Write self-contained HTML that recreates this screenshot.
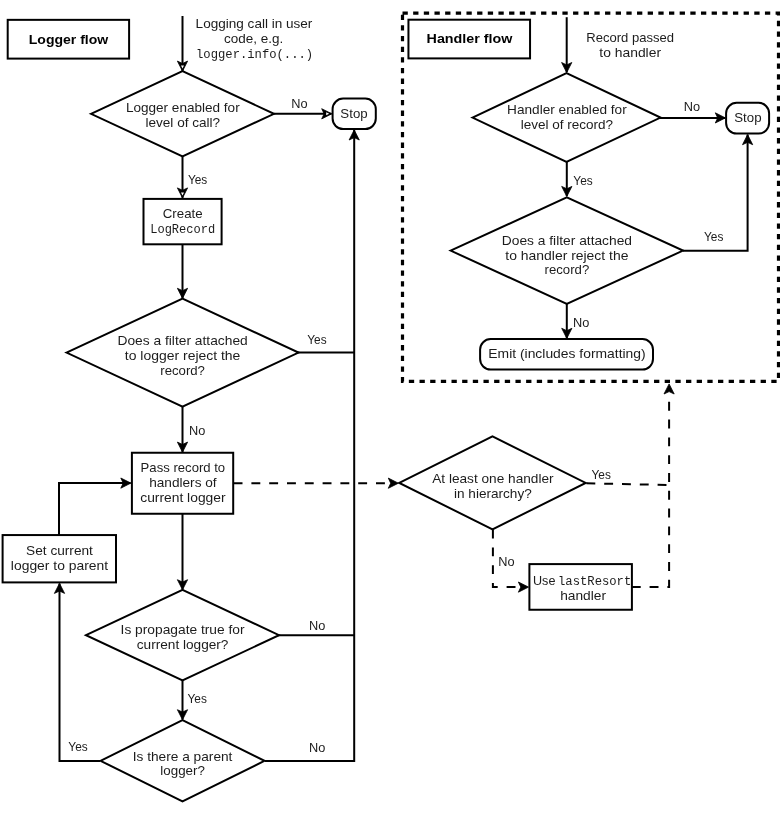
<!DOCTYPE html>
<html><head><meta charset="utf-8"><style>
html,body{margin:0;padding:0;background:#fff;width:780px;height:815px;overflow:hidden}
svg{display:block;will-change:transform}
text{fill:#1c1c1c}
text.b{fill:#000}
</style></head><body>
<svg width="780" height="815" viewBox="0 0 780 815">
<rect x="0" y="0" width="780" height="815" fill="#fff"/>
<rect x="7.70" y="19.85" width="121.40" height="38.75" fill="#fff" stroke="#000" stroke-width="2.0"/>
<text x="68.50" y="43.50" font-family="'Liberation Sans', sans-serif" font-size="12.4" font-weight="bold" class="b" text-anchor="middle" textLength="79.53" lengthAdjust="spacingAndGlyphs">Logger flow</text>
<path d="M182.50,16.00 L182.50,71.00" fill="none" stroke="#000" stroke-width="2.0"/>
<path d="M182.50,71.20 L177.40,61.10 L182.50,63.50 L187.60,61.10 Z" fill="#000" stroke="#000" stroke-width="0.8" stroke-linejoin="miter"/>
<path d="M182.50,68.60 L181.00,65.60 L184.00,65.60 Z" fill="#fff"/>
<text x="254.00" y="28.30" font-family="'Liberation Sans', sans-serif" font-size="12.4" text-anchor="middle" textLength="116.78" lengthAdjust="spacingAndGlyphs">Logging call in user</text>
<text x="253.60" y="43.00" font-family="'Liberation Sans', sans-serif" font-size="12.4" text-anchor="middle" textLength="59.20" lengthAdjust="spacingAndGlyphs">code, e.g.</text>
<text x="254.60" y="58.00" font-family="'Liberation Mono', monospace" font-size="12.0" text-anchor="middle" textLength="117.09" lengthAdjust="spacingAndGlyphs">logger.info(...)</text>
<path d="M265.00,760.90 L354.20,760.90 L354.20,130.00" fill="none" stroke="#000" stroke-width="2.0"/>
<path d="M354.20,129.90 L359.30,140.00 L354.20,137.60 L349.10,140.00 Z" fill="#000" stroke="#000" stroke-width="0.8" stroke-linejoin="miter"/>
<path d="M278.00,635.20 L354.20,635.20" fill="none" stroke="#000" stroke-width="2.0"/>
<path d="M297.00,352.60 L354.20,352.60" fill="none" stroke="#000" stroke-width="2.0"/>
<text x="317.10" y="630.10" font-family="'Liberation Sans', sans-serif" font-size="12.4" text-anchor="middle" textLength="16.32" lengthAdjust="spacingAndGlyphs">No</text>
<text x="317.10" y="751.60" font-family="'Liberation Sans', sans-serif" font-size="12.4" text-anchor="middle" textLength="16.32" lengthAdjust="spacingAndGlyphs">No</text>
<text x="316.90" y="344.20" font-family="'Liberation Sans', sans-serif" font-size="12.4" text-anchor="middle" textLength="19.37" lengthAdjust="spacingAndGlyphs">Yes</text>
<path d="M91.00,113.80 L182.50,71.20 L274.00,113.80 L182.50,156.40 Z" fill="#fff" stroke="#000" stroke-width="2.0" stroke-linejoin="miter" stroke-miterlimit="10"/>
<text x="182.80" y="111.80" font-family="'Liberation Sans', sans-serif" font-size="12.4" text-anchor="middle" textLength="113.79" lengthAdjust="spacingAndGlyphs">Logger enabled for</text>
<text x="182.80" y="126.80" font-family="'Liberation Sans', sans-serif" font-size="12.4" text-anchor="middle" textLength="74.72" lengthAdjust="spacingAndGlyphs">level of call?</text>
<path d="M274.00,113.80 L331.50,113.80" fill="none" stroke="#000" stroke-width="2.0"/>
<path d="M331.80,113.80 L321.70,118.90 L324.10,113.80 L321.70,108.70 Z" fill="#000" stroke="#000" stroke-width="0.8" stroke-linejoin="miter"/>
<path d="M329.20,113.80 L326.20,115.30 L326.20,112.30 Z" fill="#fff"/>
<text x="299.50" y="108.20" font-family="'Liberation Sans', sans-serif" font-size="12.4" text-anchor="middle" textLength="16.32" lengthAdjust="spacingAndGlyphs">No</text>
<rect x="332.60" y="98.60" width="43.20" height="30.50" rx="10.5" ry="10.5" fill="#fff" stroke="#000" stroke-width="2.0"/>
<text x="354.00" y="117.70" font-family="'Liberation Sans', sans-serif" font-size="12.4" text-anchor="middle" textLength="27.28" lengthAdjust="spacingAndGlyphs">Stop</text>
<path d="M182.50,156.00 L182.50,197.90" fill="none" stroke="#000" stroke-width="2.0"/>
<path d="M182.50,198.00 L177.40,187.90 L182.50,190.30 L187.60,187.90 Z" fill="#000" stroke="#000" stroke-width="0.8" stroke-linejoin="miter"/>
<path d="M182.50,195.40 L181.00,192.40 L184.00,192.40 Z" fill="#fff"/>
<text x="197.60" y="183.50" font-family="'Liberation Sans', sans-serif" font-size="12.4" text-anchor="middle" textLength="19.37" lengthAdjust="spacingAndGlyphs">Yes</text>
<rect x="143.50" y="198.90" width="78.10" height="45.40" fill="#fff" stroke="#000" stroke-width="2.0"/>
<text x="182.70" y="217.50" font-family="'Liberation Sans', sans-serif" font-size="12.4" text-anchor="middle" textLength="39.87" lengthAdjust="spacingAndGlyphs">Create</text>
<text x="182.70" y="232.50" font-family="'Liberation Mono', monospace" font-size="12.0" text-anchor="middle" textLength="65.02" lengthAdjust="spacingAndGlyphs">LogRecord</text>
<path d="M182.50,244.30 L182.50,298.00" fill="none" stroke="#000" stroke-width="2.0"/>
<path d="M182.50,298.40 L177.40,288.30 L182.50,290.70 L187.60,288.30 Z" fill="#000" stroke="#000" stroke-width="0.8" stroke-linejoin="miter"/>
<path d="M66.50,352.60 L182.50,298.60 L298.50,352.60 L182.50,406.60 Z" fill="#fff" stroke="#000" stroke-width="2.0" stroke-linejoin="miter" stroke-miterlimit="10"/>
<text x="182.60" y="344.80" font-family="'Liberation Sans', sans-serif" font-size="12.4" text-anchor="middle" textLength="130.25" lengthAdjust="spacingAndGlyphs">Does a filter attached</text>
<text x="182.60" y="359.60" font-family="'Liberation Sans', sans-serif" font-size="12.4" text-anchor="middle" textLength="115.48" lengthAdjust="spacingAndGlyphs">to logger reject the</text>
<text x="182.60" y="374.60" font-family="'Liberation Sans', sans-serif" font-size="12.4" text-anchor="middle" textLength="44.70" lengthAdjust="spacingAndGlyphs">record?</text>
<path d="M182.50,406.00 L182.50,452.00" fill="none" stroke="#000" stroke-width="2.0"/>
<path d="M182.50,452.20 L177.40,442.10 L182.50,444.50 L187.60,442.10 Z" fill="#000" stroke="#000" stroke-width="0.8" stroke-linejoin="miter"/>
<text x="197.30" y="434.60" font-family="'Liberation Sans', sans-serif" font-size="12.4" text-anchor="middle" textLength="16.32" lengthAdjust="spacingAndGlyphs">No</text>
<rect x="131.90" y="452.75" width="101.30" height="61.00" fill="#fff" stroke="#000" stroke-width="2.0"/>
<text x="182.90" y="471.50" font-family="'Liberation Sans', sans-serif" font-size="12.4" text-anchor="middle" textLength="84.56" lengthAdjust="spacingAndGlyphs">Pass record to</text>
<text x="182.90" y="486.50" font-family="'Liberation Sans', sans-serif" font-size="12.4" text-anchor="middle" textLength="67.47" lengthAdjust="spacingAndGlyphs">handlers of</text>
<text x="182.90" y="501.50" font-family="'Liberation Sans', sans-serif" font-size="12.4" text-anchor="middle" textLength="85.33" lengthAdjust="spacingAndGlyphs">current logger</text>
<path d="M182.50,513.50 L182.50,589.50" fill="none" stroke="#000" stroke-width="2.0"/>
<path d="M182.50,589.80 L177.40,579.70 L182.50,582.10 L187.60,579.70 Z" fill="#000" stroke="#000" stroke-width="0.8" stroke-linejoin="miter"/>
<path d="M86.00,635.20 L182.50,589.90 L279.00,635.20 L182.50,680.50 Z" fill="#fff" stroke="#000" stroke-width="2.0" stroke-linejoin="miter" stroke-miterlimit="10"/>
<text x="182.60" y="633.80" font-family="'Liberation Sans', sans-serif" font-size="12.4" text-anchor="middle" textLength="124.02" lengthAdjust="spacingAndGlyphs">Is propagate true for</text>
<text x="182.60" y="648.70" font-family="'Liberation Sans', sans-serif" font-size="12.4" text-anchor="middle" textLength="91.70" lengthAdjust="spacingAndGlyphs">current logger?</text>
<path d="M182.50,680.50 L182.50,719.50" fill="none" stroke="#000" stroke-width="2.0"/>
<path d="M182.50,719.80 L177.40,709.70 L182.50,712.10 L187.60,709.70 Z" fill="#000" stroke="#000" stroke-width="0.8" stroke-linejoin="miter"/>
<text x="197.20" y="702.50" font-family="'Liberation Sans', sans-serif" font-size="12.4" text-anchor="middle" textLength="19.37" lengthAdjust="spacingAndGlyphs">Yes</text>
<path d="M100.50,760.80 L182.50,720.10 L264.50,760.80 L182.50,801.50 Z" fill="#fff" stroke="#000" stroke-width="2.0" stroke-linejoin="miter" stroke-miterlimit="10"/>
<text x="182.60" y="760.50" font-family="'Liberation Sans', sans-serif" font-size="12.4" text-anchor="middle" textLength="99.67" lengthAdjust="spacingAndGlyphs">Is there a parent</text>
<text x="182.60" y="775.40" font-family="'Liberation Sans', sans-serif" font-size="12.4" text-anchor="middle" textLength="44.60" lengthAdjust="spacingAndGlyphs">logger?</text>
<text x="78.00" y="751.10" font-family="'Liberation Sans', sans-serif" font-size="12.4" text-anchor="middle" textLength="19.37" lengthAdjust="spacingAndGlyphs">Yes</text>
<path d="M100.00,760.90 L59.50,760.90 L59.50,583.50" fill="none" stroke="#000" stroke-width="2.0"/>
<path d="M59.50,583.30 L64.60,593.40 L59.50,591.00 L54.40,593.40 Z" fill="#000" stroke="#000" stroke-width="0.8" stroke-linejoin="miter"/>
<rect x="2.60" y="535.06" width="113.40" height="47.34" fill="#fff" stroke="#000" stroke-width="2.0"/>
<text x="59.50" y="555.10" font-family="'Liberation Sans', sans-serif" font-size="12.4" text-anchor="middle" textLength="66.81" lengthAdjust="spacingAndGlyphs">Set current</text>
<text x="59.50" y="570.20" font-family="'Liberation Sans', sans-serif" font-size="12.4" text-anchor="middle" textLength="97.24" lengthAdjust="spacingAndGlyphs">logger to parent</text>
<path d="M59.00,535.10 L59.00,483.10 L130.50,483.10" fill="none" stroke="#000" stroke-width="2.0"/>
<path d="M130.90,483.10 L120.80,488.20 L123.20,483.10 L120.80,478.00 Z" fill="#000" stroke="#000" stroke-width="0.8" stroke-linejoin="miter"/>
<path d="M233.60,483.20 L389.00,483.20" fill="none" stroke="#000" stroke-width="2.0" stroke-dasharray="8.9 8.9"/>
<path d="M398.40,483.20 L388.30,488.30 L390.70,483.20 L388.30,478.10 Z" fill="#000" stroke="#000" stroke-width="0.8" stroke-linejoin="miter"/>
<path d="M399.30,482.90 L492.50,436.40 L585.70,482.90 L492.50,529.40 Z" fill="#fff" stroke="#000" stroke-width="2.0" stroke-linejoin="miter" stroke-miterlimit="10"/>
<text x="492.90" y="482.90" font-family="'Liberation Sans', sans-serif" font-size="12.4" text-anchor="middle" textLength="121.34" lengthAdjust="spacingAndGlyphs">At least one handler</text>
<text x="492.90" y="497.70" font-family="'Liberation Sans', sans-serif" font-size="12.4" text-anchor="middle" textLength="77.71" lengthAdjust="spacingAndGlyphs">in hierarchy?</text>
<text x="601.20" y="478.50" font-family="'Liberation Sans', sans-serif" font-size="12.4" text-anchor="middle" textLength="19.37" lengthAdjust="spacingAndGlyphs">Yes</text>
<path d="M586.40,483.30 L669.10,485.00" fill="none" stroke="#000" stroke-width="2.0" stroke-dasharray="8.9 8.9"/>
<path d="M669.10,383.90 L674.20,394.00 L669.10,391.60 L664.00,394.00 Z" fill="#000" stroke="#000" stroke-width="0.8" stroke-linejoin="miter"/>
<path d="M492.90,529.60 L492.90,587.10 L520.00,587.10" fill="none" stroke="#000" stroke-width="2.0" stroke-dasharray="8.9 8.9"/>
<path d="M528.50,587.10 L518.40,592.20 L520.80,587.10 L518.40,582.00 Z" fill="#000" stroke="#000" stroke-width="0.8" stroke-linejoin="miter"/>
<text x="506.50" y="566.00" font-family="'Liberation Sans', sans-serif" font-size="12.4" text-anchor="middle" textLength="16.32" lengthAdjust="spacingAndGlyphs">No</text>
<rect x="529.40" y="564.10" width="102.50" height="45.65" fill="#fff" stroke="#000" stroke-width="2.0"/>
<text x="533.00" y="584.50" font-family="'Liberation Sans', sans-serif" font-size="12.4" textLength="22.42" lengthAdjust="spacingAndGlyphs">Use</text>
<text x="558.03" y="584.50" font-family="'Liberation Mono', monospace" font-size="12.0" textLength="73.25" lengthAdjust="spacingAndGlyphs">lastResort</text>
<text x="583.10" y="599.90" font-family="'Liberation Sans', sans-serif" font-size="12.4" text-anchor="middle" textLength="45.83" lengthAdjust="spacingAndGlyphs">handler</text>
<path d="M631.80,587.00 L669.10,587.00 L669.10,393.00" fill="none" stroke="#000" stroke-width="2.0" stroke-dasharray="8.9 8.9"/>
<rect x="402.50" y="13.10" width="376.00" height="368.30" fill="none" stroke="#000" stroke-width="3.2" stroke-dasharray="5.3 5.36"/>
<rect x="408.45" y="19.70" width="121.60" height="38.70" fill="#fff" stroke="#000" stroke-width="2.0"/>
<text x="469.50" y="42.90" font-family="'Liberation Sans', sans-serif" font-size="12.4" font-weight="bold" class="b" text-anchor="middle" textLength="85.85" lengthAdjust="spacingAndGlyphs">Handler flow</text>
<path d="M566.70,17.20 L566.70,72.00" fill="none" stroke="#000" stroke-width="2.0"/>
<path d="M566.70,72.60 L561.60,62.50 L566.70,64.90 L571.80,62.50 Z" fill="#000" stroke="#000" stroke-width="0.8" stroke-linejoin="miter"/>
<text x="630.20" y="42.20" font-family="'Liberation Sans', sans-serif" font-size="12.4" text-anchor="middle" textLength="87.75" lengthAdjust="spacingAndGlyphs">Record passed</text>
<text x="630.20" y="57.00" font-family="'Liberation Sans', sans-serif" font-size="12.4" text-anchor="middle" textLength="61.69" lengthAdjust="spacingAndGlyphs">to handler</text>
<path d="M472.50,117.60 L566.50,73.20 L660.50,117.60 L566.50,162.00 Z" fill="#fff" stroke="#000" stroke-width="2.0" stroke-linejoin="miter" stroke-miterlimit="10"/>
<text x="566.90" y="114.20" font-family="'Liberation Sans', sans-serif" font-size="12.4" text-anchor="middle" textLength="119.67" lengthAdjust="spacingAndGlyphs">Handler enabled for</text>
<text x="566.90" y="129.10" font-family="'Liberation Sans', sans-serif" font-size="12.4" text-anchor="middle" textLength="92.43" lengthAdjust="spacingAndGlyphs">level of record?</text>
<path d="M660.00,117.90 L725.00,117.90" fill="none" stroke="#000" stroke-width="2.0"/>
<path d="M725.40,117.90 L715.30,123.00 L717.70,117.90 L715.30,112.80 Z" fill="#000" stroke="#000" stroke-width="0.8" stroke-linejoin="miter"/>
<text x="692.00" y="110.50" font-family="'Liberation Sans', sans-serif" font-size="12.4" text-anchor="middle" textLength="16.32" lengthAdjust="spacingAndGlyphs">No</text>
<rect x="726.10" y="102.85" width="43.00" height="30.75" rx="10.5" ry="10.5" fill="#fff" stroke="#000" stroke-width="2.0"/>
<text x="747.90" y="121.80" font-family="'Liberation Sans', sans-serif" font-size="12.4" text-anchor="middle" textLength="27.28" lengthAdjust="spacingAndGlyphs">Stop</text>
<path d="M566.80,161.50 L566.80,196.00" fill="none" stroke="#000" stroke-width="2.0"/>
<path d="M566.80,196.50 L561.70,186.40 L566.80,188.80 L571.90,186.40 Z" fill="#000" stroke="#000" stroke-width="0.8" stroke-linejoin="miter"/>
<text x="583.00" y="185.40" font-family="'Liberation Sans', sans-serif" font-size="12.4" text-anchor="middle" textLength="19.37" lengthAdjust="spacingAndGlyphs">Yes</text>
<path d="M450.60,250.60 L566.80,197.40 L683.00,250.60 L566.80,303.80 Z" fill="#fff" stroke="#000" stroke-width="2.0" stroke-linejoin="miter" stroke-miterlimit="10"/>
<text x="566.90" y="244.70" font-family="'Liberation Sans', sans-serif" font-size="12.4" text-anchor="middle" textLength="130.25" lengthAdjust="spacingAndGlyphs">Does a filter attached</text>
<text x="566.90" y="259.60" font-family="'Liberation Sans', sans-serif" font-size="12.4" text-anchor="middle" textLength="123.09" lengthAdjust="spacingAndGlyphs">to handler reject the</text>
<text x="566.90" y="274.40" font-family="'Liberation Sans', sans-serif" font-size="12.4" text-anchor="middle" textLength="44.70" lengthAdjust="spacingAndGlyphs">record?</text>
<path d="M683.00,250.70 L747.60,250.70 L747.60,134.50" fill="none" stroke="#000" stroke-width="2.0"/>
<path d="M747.60,134.60 L752.70,144.70 L747.60,142.30 L742.50,144.70 Z" fill="#000" stroke="#000" stroke-width="0.8" stroke-linejoin="miter"/>
<text x="713.70" y="241.20" font-family="'Liberation Sans', sans-serif" font-size="12.4" text-anchor="middle" textLength="19.37" lengthAdjust="spacingAndGlyphs">Yes</text>
<path d="M566.80,303.50 L566.80,338.00" fill="none" stroke="#000" stroke-width="2.0"/>
<path d="M566.80,338.40 L561.70,328.30 L566.80,330.70 L571.90,328.30 Z" fill="#000" stroke="#000" stroke-width="0.8" stroke-linejoin="miter"/>
<text x="581.30" y="327.00" font-family="'Liberation Sans', sans-serif" font-size="12.4" text-anchor="middle" textLength="16.32" lengthAdjust="spacingAndGlyphs">No</text>
<rect x="480.10" y="339.10" width="172.90" height="30.50" rx="10.5" ry="10.5" fill="#fff" stroke="#000" stroke-width="2.0"/>
<text x="567.00" y="358.00" font-family="'Liberation Sans', sans-serif" font-size="12.4" text-anchor="middle" textLength="157.33" lengthAdjust="spacingAndGlyphs">Emit (includes formatting)</text>
</svg>
</body></html>
